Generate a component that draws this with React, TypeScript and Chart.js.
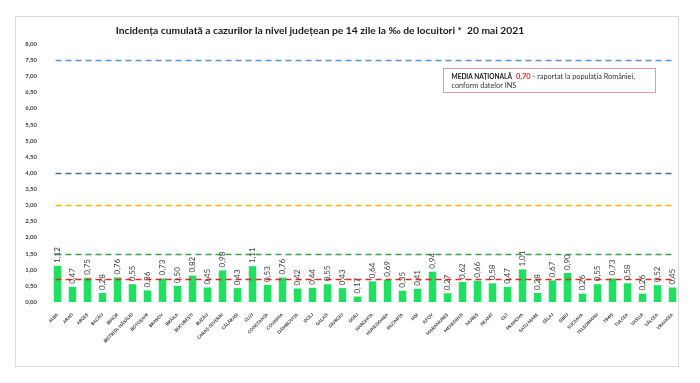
import React, { useEffect, useRef } from 'react';
import { Chart, registerables } from 'chart.js';

Chart.register(...registerables);

const counties = [
  'ALBA', 'ARAD', 'ARGEȘ', 'BACĂU', 'BIHOR', 'BISTRIȚA-NĂSĂUD', 'BOTOȘANI', 'BRAȘOV', 'BRĂILA', 'BUCUREȘTI',
  'BUZĂU', 'CARAȘ-SEVERIN', 'CĂLĂRAȘI', 'CLUJ', 'CONSTANȚA', 'COVASNA', 'DÂMBOVIȚA', 'DOLJ', 'GALAȚI', 'GIURGIU',
  'GORJ', 'HARGHITA', 'HUNEDOARA', 'IALOMIȚA', 'IAȘI', 'ILFOV', 'MARAMUREȘ', 'MEHEDINȚI', 'MUREȘ', 'NEAMȚ',
  'OLT', 'PRAHOVA', 'SATU MARE', 'SĂLAJ', 'SIBIU', 'SUCEAVA', 'TELEORMAN', 'TIMIȘ', 'TULCEA', 'VASLUI',
  'VÂLCEA', 'VRANCEA',
];

const incidence = [
  1.12, 0.47, 0.75, 0.28, 0.76, 0.55, 0.36, 0.73, 0.5, 0.82,
  0.45, 0.98, 0.43, 1.11, 0.53, 0.76, 0.42, 0.44, 0.55, 0.43,
  0.17, 0.64, 0.69, 0.35, 0.41, 0.94, 0.27, 0.62, 0.66, 0.58,
  0.47, 1.01, 0.28, 0.67, 0.9, 0.26, 0.55, 0.73, 0.58, 0.26,
  0.52, 0.45,
];

const thresholdValues = [7.5, 4.0, 3.0, 1.5];
const nationalAverage = 0.7;

const titleText = 'Incidența cumulată a cazurilor la nivel județean pe 14 zile la ‰ de locuitori *  20 mai 2021';
const legendBold = 'MEDIA NAȚIONALĂ';
const legendRest = ' - raportat la populația României,';
const legendLine2 = 'conform datelor INS';

const thresholdColors = ['#5a95cc', '#44729f', '#f2b300', '#3f9f55'];
const averageColor = '#e02b2b';
const FONT = 'Lato, "Open Sans", sans-serif';

const fmt = (v: number) => v.toFixed(2).replace('.', ',');

const decorPlugin = {
  id: 'decor',
  beforeDraw(chart: any) {
    const ctx = chart.ctx;
    ctx.save();
    ctx.fillStyle = '#ffffff';
    ctx.fillRect(0, 0, chart.width, chart.height);
    ctx.strokeStyle = '#dcdcdc';
    ctx.lineWidth = 1;
    ctx.strokeRect(15.5, 16.5, 663, 350);
    ctx.restore();
  },
  afterDatasetsDraw(chart: any) {
    const ctx = chart.ctx;
    const x = chart.scales.x;
    const y = chart.scales.y;
    const xStart = x.getPixelForValue(0) - 2;
    const xEnd = x.getPixelForValue(counties.length - 1);
    ctx.save();
    ctx.lineWidth = 1.5;
    ctx.setLineDash([6, 4]);
    const lines = thresholdValues.map((v, i) => ({ v, c: thresholdColors[i] }));
    lines.push({ v: nationalAverage, c: averageColor });
    for (const l of lines) {
      const py = Math.round(y.getPixelForValue(l.v)) + 0.5;
      ctx.strokeStyle = l.c;
      ctx.beginPath();
      ctx.moveTo(xStart, py);
      ctx.lineTo(xEnd, py);
      ctx.stroke();
    }
    ctx.setLineDash([]);

    // value labels
    const meta = chart.getDatasetMeta(0);
    ctx.fillStyle = '#404040';
    ctx.font = `8px ${FONT}`;
    ctx.textAlign = 'left';
    ctx.textBaseline = 'middle';
    meta.data.forEach((bar: any, i: number) => {
      ctx.save();
      ctx.translate(bar.x, bar.y - 3);
      ctx.rotate(-Math.PI / 2);
      ctx.fillText(fmt(incidence[i]), 0, 0);
      ctx.restore();
    });

    // title
    ctx.fillStyle = '#1a1a1a';
    ctx.font = `bold 10.3px ${FONT}`;
    ctx.textAlign = 'center';
    ctx.textBaseline = 'middle';
    ctx.fillText(titleText, 320, 31);

    // legend box
    const bx = 443.5, by = 68.5, bw = 212, bh = 24;
    ctx.fillStyle = '#ffffff';
    ctx.fillRect(bx, by, bw, bh);
    ctx.strokeStyle = '#e29a9a';
    ctx.lineWidth = 1;
    ctx.strokeRect(bx, by, bw, bh);
    ctx.textAlign = 'left';
    ctx.textBaseline = 'middle';
    let tx = bx + 8;
    const ty = by + 8.5;
    ctx.font = `bold 6.5px ${FONT}`;
    ctx.fillStyle = '#1a1a1a';
    ctx.fillText(legendBold, tx, ty);
    tx += ctx.measureText(legendBold).width + 4;
    ctx.font = `bold 7.5px ${FONT}`;
    ctx.fillStyle = averageColor;
    const avg = fmt(nationalAverage);
    ctx.fillText(avg, tx, ty);
    tx += ctx.measureText(avg).width;
    ctx.font = `7.3px ${FONT}`;
    ctx.fillStyle = '#333333';
    ctx.fillText(legendRest, tx, ty);
    ctx.fillText(legendLine2, bx + 8, by + 17.5);
    ctx.restore();
  },
};

export default function App() {
  const ref = useRef<HTMLCanvasElement | null>(null);
  useEffect(() => {
    if (!ref.current) return;
    const chart = new Chart(ref.current, {
      type: 'bar',
      data: {
        labels: counties,
        datasets: [
          {
            data: incidence,
            backgroundColor: '#1fe060',
            barPercentage: 0.5,
            categoryPercentage: 1,
          },
        ],
      },
      options: {
        responsive: false,
        animation: false,
        layout: { padding: { top: 44, bottom: 19, left: 0, right: 20 } },
        plugins: {
          legend: { display: false },
          tooltip: { enabled: false },
          title: { display: false },
        },
        scales: {
          x: {
            grid: { display: false },
            border: { display: false },
            ticks: {
              autoSkip: false,
              maxRotation: 45,
              minRotation: 45,
              padding: 2,
              color: '#333333',
              font: { size: 4.5, weight: 'bold', family: FONT },
            },
            afterFit: (s: any) => {
              s.height = 62;
            },
          },
          y: {
            min: 0,
            max: 8,
            grid: { display: false },
            border: { display: false },
            ticks: {
              stepSize: 0.25,
              padding: 5,
              color: '#404040',
              font: { size: 6, weight: 'bold', family: FONT },
              callback: (v: any) => fmt(Number(v)),
            },
            afterFit: (s: any) => {
              s.width = 50;
            },
          },
        },
      },
      plugins: [decorPlugin],
    });
    return () => chart.destroy();
  }, []);
  return (
    <div style={{ position: 'fixed', left: 0, top: 0, width: 700, height: 383, background: '#fff' }}>
      <canvas ref={ref} width={700} height={383} style={{ display: 'block' }} />
    </div>
  );
}
